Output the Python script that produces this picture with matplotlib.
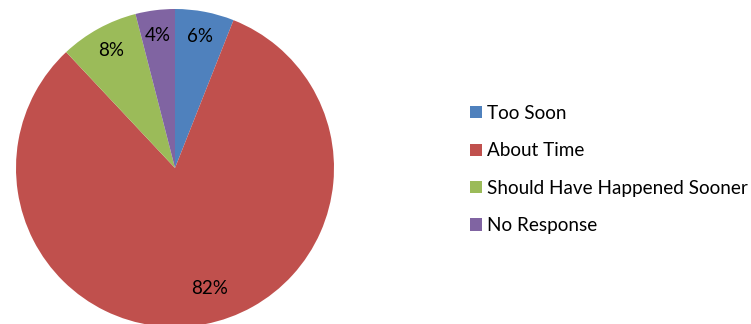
import matplotlib.pyplot as plt
from matplotlib.patches import Patch

categories = ["Too Soon", "About Time", "Should Have Happened Sooner", "No Response"]
shares = [6, 82, 8, 4]
colors = ["#4F81BD", "#C0504D", "#9BBB59", "#8064A2"]

plt.rcParams['font.family'] = ['Lato', 'DejaVu Sans']

W, H = 751, 324
fig = plt.figure(figsize=(W / 100, H / 100), dpi=100)

# pie axes in pixel terms: centre (175, 168), radius 159
cx, cy, r = 175, 168, 159
ax = fig.add_axes([(cx - r) / W, (H - cy - r) / H, 2 * r / W, 2 * r / H])
wedges, texts, autotexts = ax.pie(
    shares, colors=colors, startangle=90, counterclock=False, radius=1,
    autopct='%1.0f%%', pctdistance=0.84,
    wedgeprops=dict(linewidth=0),
    textprops=dict(fontsize=13.5, color='black'))
ax.set_xlim(-1, 1)
ax.set_ylim(-1, 1)
ax.set_aspect('equal')
ax.axis('off')

# the big slice's label sits a bit right of its middle
autotexts[1].set_position((0.22, -0.76))

handles = [Patch(facecolor=c, edgecolor='none') for c in colors]
fig.legend(handles, categories, loc='upper left',
           bbox_to_anchor=(453 / W, 1 - 88 / H), frameon=False,
           fontsize=13.6, handlelength=0.62, handleheight=0.62,
           handletextpad=0.3, labelspacing=1.08)

fig.savefig('out.png', dpi=100)
